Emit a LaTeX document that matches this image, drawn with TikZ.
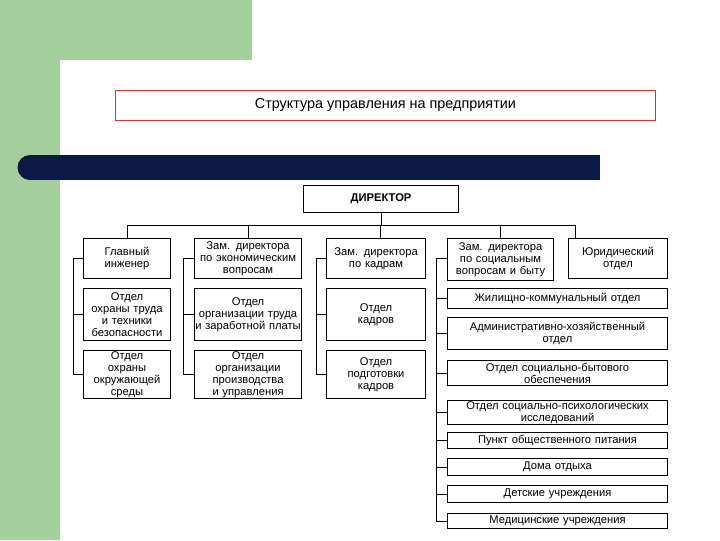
\documentclass[tikz,border=0pt]{standalone}
\usepackage{fontspec}
\setmainfont{Liberation Sans}
\begin{document}
\begin{tikzpicture}[x=0.75pt,y=-0.75pt,
  bx/.style={draw=black,line width=0.8pt,align=center,inner sep=0pt,font=\fontsize{8.4}{9}\selectfont,anchor=north west},
  ln/.style={line width=0.7pt}]
\useasboundingbox (0,0) rectangle (720,540);
\fill[white] (0,0) rectangle (720,540);
\definecolor{gr}{RGB}{163,207,156}
\definecolor{nv}{RGB}{10,25,70}
\fill[gr] (0,0) rectangle (252,60);
\fill[gr] (0,0) rectangle (60,540);
\fill[white,rounded corners=14pt] (60,60) rectangle (740,560);
\fill[nv] (30,155) rectangle (600,180);
\fill[nv] (30,167.5) circle[radius=12.5];
\node[draw={rgb,255:red,200;green,60;blue,60},line width=0.6pt,minimum width=405pt,minimum height=22.5pt,anchor=north west,font=\fontsize{10.8}{12}\selectfont] (t) at (115,90) {Структура управления на предприятии};
\newcommand{\B}[6]{\node[bx,minimum width={(#4-#2)*0.75pt},minimum height={(#5-#3)*0.75pt},text width={(#4-#2)*0.75pt}] (#1) at (#2,#3) {#6};}
\B{dir}{303}{185}{458}{212}{\textbf{ДИРЕКТОР}}
\B{a1}{83}{238}{170}{278}{Главный\\инженер}
\B{a2}{83}{288}{170}{340}{Отдел\\охраны труда\\и техники\\безопасности}
\B{a3}{83}{350}{170}{398}{Отдел\\охраны\\окружающей\\среды}
\B{b1}{194}{238}{301}{278}{Зам. директора\\по экономическим\\вопросам}
\B{b2}{194}{288}{301}{340}{Отдел\\организации труда\\\mbox{и заработной платы}}
\B{b3}{194}{350}{301}{398}{Отдел\\организации\\производства\\и управления}
\B{c1}{326}{238}{425}{278}{Зам. директора\\по кадрам}
\B{c2}{326}{288}{425}{340}{Отдел\\кадров}
\B{c3}{326}{350}{425}{398}{Отдел\\подготовки\\кадров}
\B{d1}{447}{238}{553}{280}{Зам. директора\\по социальным\\вопросам и быту}
\B{e1}{568}{238}{667}{278}{Юридический\\отдел}
\B{r1}{447}{288}{667}{308}{Жилищно-коммунальный отдел}
\B{r2}{447}{317}{667}{349}{Административно-хозяйственный\\отдел}
\B{r3}{447}{360}{667}{385}{Отдел социально-бытового\\обеспечения}
\B{r4}{447}{400}{667}{424}{Отдел социально-психологических\\исследований}
\B{r5}{447}{432}{667}{448}{Пункт общественного питания}
\B{r6}{447}{458}{667}{475}{Дома отдыха}
\B{r7}{447}{485}{667}{502}{Детские учреждения}
\B{r8}{447}{513}{667}{528}{Медицинские учреждения}
\coordinate (bus) at (0,225);
\draw[ln] (dir.south) -- (dir.south |- bus);
\draw[ln] (a1.north -| 127,0) |- (bus -| 575,0) -- (e1.north -| 575,0);
\foreach \x/\n in {127/a1,248/b1,380/c1,500/d1}{\draw[ln] (\x,225) -- (\n.north -| \x,0);}
\foreach \s/\p in {73/a,183/b,316/c}{
  \draw[ln] (\p1.west -| \s,0) -- (\p3.west -| \s,0);
  \foreach \i in {1,2,3}{\draw[ln] (\p\i.west -| \s,0) -- (\p\i.west);}
}
\draw[ln] (436,258) -- (r8.west -| 436,0);
\draw[ln] (436,258) -- (d1.west |- 0,258);
\foreach \i in {1,...,8}{\draw[ln] (r\i.west -| 436,0) -- (r\i.west);}
\end{tikzpicture}
\end{document}
